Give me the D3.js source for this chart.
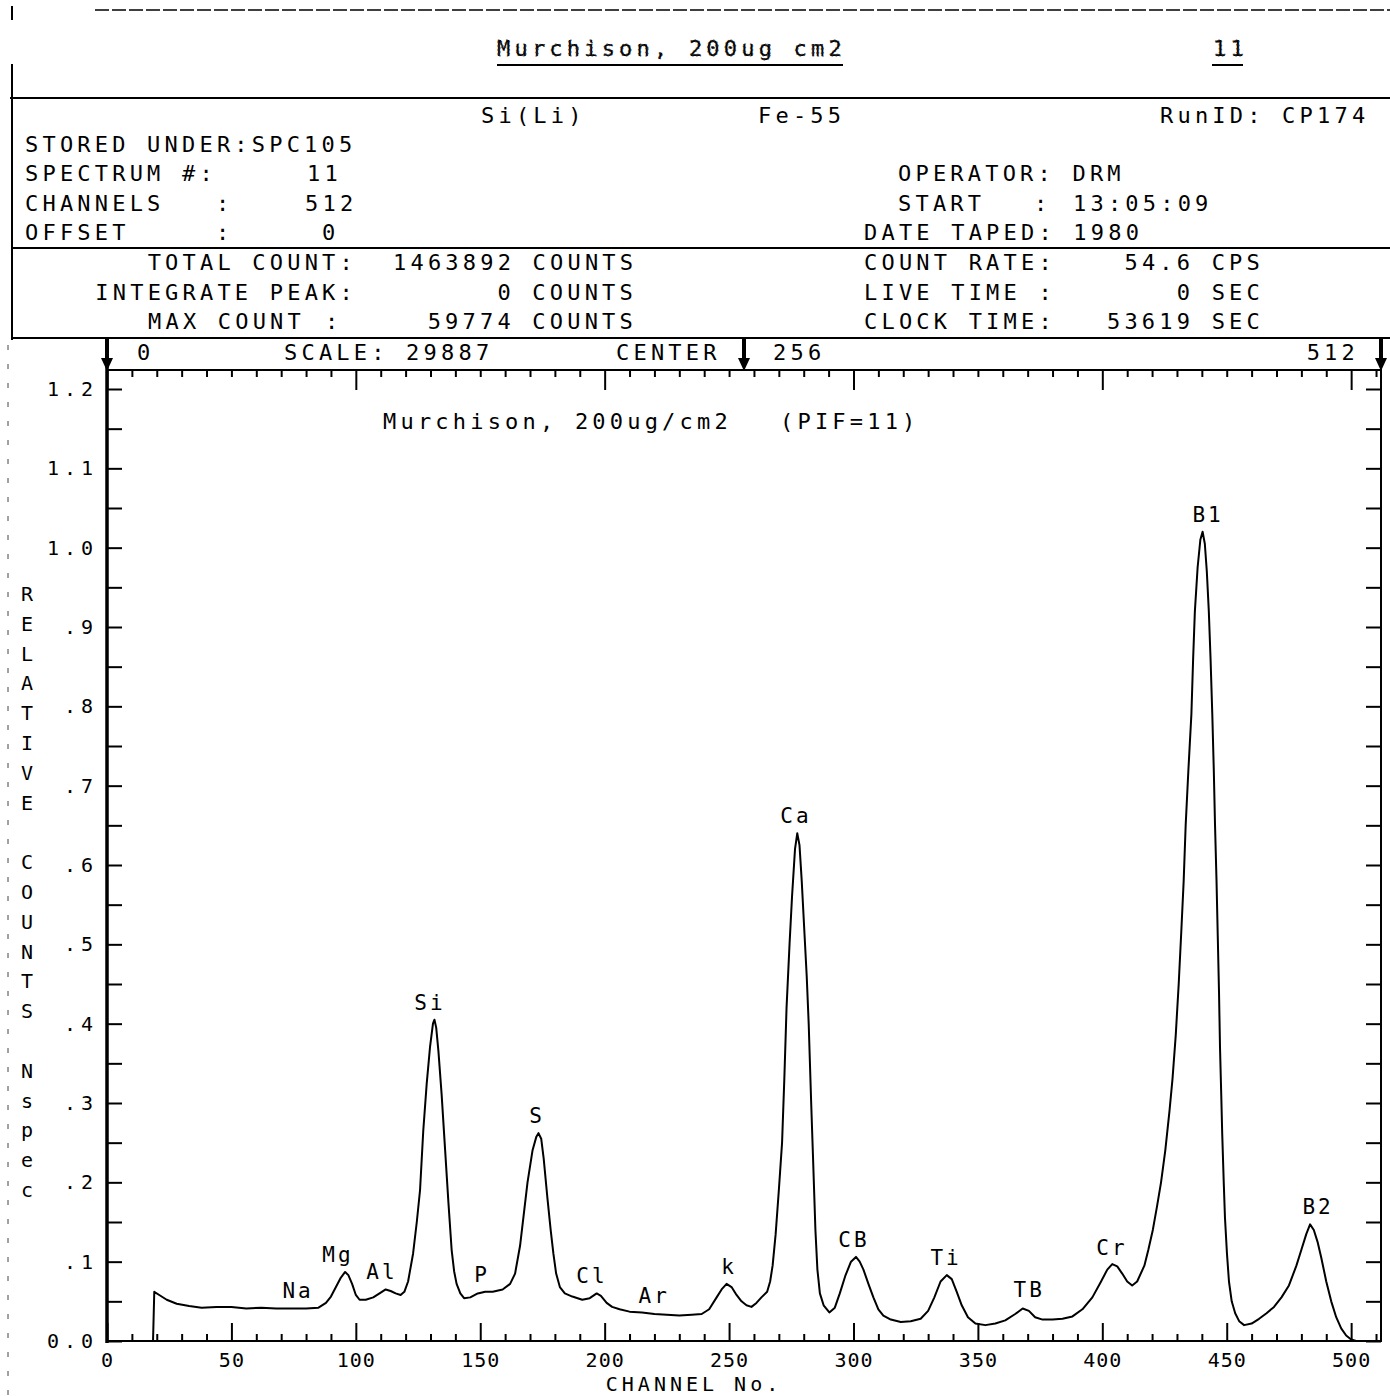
<!DOCTYPE html>
<html>
<head>
<meta charset="utf-8">
<script src="https://cdn.jsdelivr.net/npm/d3@7"></script>
<style>
  html, body { margin: 0; padding: 0; background: #fff; }
  svg { display: block; }
  text { font-family: "DejaVu Sans Mono", "Liberation Mono", monospace; fill: #000; }
</style>
</head>
<body>
<svg id="chart" width="1390" height="1396"></svg>
<script>
// ---- Spectrum: channel number and relative counts (Nspec) ----
const channels = [18.5,19,21,24,28,33,38,44,50,56,62,68,74,80,85,88,90,92,94,95.7,97,98.5,100,101.5,104,107,110,112,114,116,118,119.5,121,123,124.5,125.8,127.1,128.5,129.8,131,131.6,132.3,133.2,134.5,135.9,137.2,138.5,139.5,140.5,142,143.5,146,149,152,155,159,162,164,166,167.5,169,171,172.5,173.4,174.5,175.5,177,178.3,179.4,180.5,182,184,187,191,194,196.8,198.5,200.8,203,206,210,215,220,225,230,235,239,242,245,247,249,251,253,255,257,259,261,263,265.3,266.5,267.5,268.7,270,271.3,272.2,273.1,274.3,275.3,276.5,277.4,278.3,279.2,280.2,281.2,282,283,283.7,284.7,285.5,286.5,288,290.3,292.5,294.5,296.7,299,301,302.5,304,306,308,310,312,315,319,323,327,330,332.5,335,337.5,339.5,341.5,343.5,346,349,353,357,361,365,368,370.5,373,376,380,384,388,392,396,399.5,402,404,406,408,410,412,414,416.9,418.5,420.3,422,423.6,425.3,427,428.2,429.5,430.7,431.8,432.7,433.5,434.6,435.8,436.5,437.2,438.3,439.4,440.3,441.2,442,442.8,443.5,444.2,444.8,445.3,445.9,446.4,446.9,447.3,447.8,448.2,448.8,449.3,450.1,450.9,452,453.4,455,457,460,463,466,469,472,475,478,480,482,483.5,485,486.5,488,490,492,494,496,498,500,502,511];
const counts = [0,0.062,0.058,0.052,0.047,0.044,0.042,0.043,0.043,0.041,0.042,0.041,0.041,0.041,0.042,0.048,0.056,0.068,0.080,0.087,0.083,0.072,0.058,0.052,0.052,0.055,0.061,0.065,0.063,0.060,0.058,0.062,0.075,0.110,0.150,0.190,0.265,0.325,0.370,0.400,0.405,0.395,0.365,0.310,0.240,0.175,0.115,0.088,0.072,0.060,0.054,0.055,0.060,0.062,0.062,0.065,0.072,0.085,0.120,0.160,0.200,0.240,0.257,0.262,0.255,0.230,0.180,0.140,0.110,0.085,0.068,0.060,0.056,0.052,0.054,0.060,0.057,0.048,0.043,0.040,0.037,0.036,0.034,0.033,0.032,0.033,0.034,0.040,0.055,0.065,0.072,0.068,0.058,0.050,0.045,0.043,0.048,0.055,0.062,0.075,0.095,0.134,0.190,0.250,0.330,0.420,0.500,0.560,0.620,0.640,0.625,0.580,0.520,0.460,0.400,0.300,0.235,0.140,0.090,0.060,0.045,0.036,0.042,0.060,0.082,0.100,0.106,0.100,0.090,0.072,0.055,0.040,0.032,0.027,0.024,0.025,0.028,0.038,0.055,0.075,0.083,0.078,0.062,0.045,0.030,0.022,0.020,0.022,0.026,0.034,0.041,0.038,0.030,0.027,0.027,0.028,0.031,0.040,0.055,0.075,0.090,0.097,0.094,0.085,0.075,0.070,0.075,0.095,0.115,0.140,0.170,0.200,0.240,0.290,0.330,0.385,0.450,0.520,0.580,0.650,0.720,0.790,0.860,0.920,0.975,1.010,1.020,1.005,0.970,0.920,0.860,0.790,0.720,0.650,0.580,0.510,0.440,0.370,0.310,0.260,0.200,0.155,0.110,0.075,0.050,0.035,0.025,0.020,0.022,0.028,0.035,0.043,0.055,0.070,0.095,0.115,0.135,0.147,0.140,0.125,0.105,0.075,0.050,0.030,0.016,0.007,0.002,0,0];

// ---- Element labels above the lines ----
const peakNames    = ["Na","Mg","Al","Si","P","S","Cl","Ar","k","Ca","CB","Ti","TB","Cr","B1","B2"];
const peakChannels = [76.8,92.8,110.5,129.8,150.7,172.8,194.9,219.9,250,276.9,300.2,337.2,370.6,403.9,442.5,486.7];
const peakValues   = [0.042,0.087,0.065,0.405,0.062,0.262,0.060,0.035,0.072,0.640,0.106,0.083,0.043,0.096,1.020,0.148];

// ---- Axis ticks ----
const yTickValues = d3.range(0, 24.5).map(i => +(i * 0.05).toFixed(2));
const yTickLabels = {"0":"0.0","0.1":".1","0.2":".2","0.3":".3","0.4":".4","0.5":".5","0.6":".6","0.7":".7","0.8":".8","0.9":".9","1":"1.0","1.1":"1.1","1.2":"1.2"};
const xTickValues = d3.range(0, 511, 10);
const xTickLabels = [0,50,100,150,200,250,300,350,400,450,500];

// ---- Run header ----
const runTitle = "Murchison, 200ug cm2";
const runNumber = "11";
const plotTitle = "Murchison, 200ug/cm2";
const plotTag = "(PIF=11)";
const yTitle = "RELATIVE COUNTS Nspec";
const xTitle = "CHANNEL No.";

const svg = d3.select("#chart");
const FONT = 22;

function label(txt, x, y, opts = {}) {
  return svg.append("text")
    .attr("x", x).attr("y", y)
    .attr("font-size", opts.size || FONT)
    .attr("letter-spacing", opts.ls != null ? opts.ls : 4.2)
    .attr("text-anchor", opts.anchor || "start")
    .text(txt);
}
function hline(x1, x2, y, w = 2, dash = null) {
  const l = svg.append("line").attr("x1", x1).attr("x2", x2).attr("y1", y).attr("y2", y)
    .attr("stroke", "#000").attr("stroke-width", w);
  if (dash) l.attr("stroke-dasharray", dash);
  return l;
}
function vline(x, y1, y2, w = 2, dash = null) {
  const l = svg.append("line").attr("x1", x).attr("x2", x).attr("y1", y1).attr("y2", y2)
    .attr("stroke", "#000").attr("stroke-width", w);
  if (dash) l.attr("stroke-dasharray", dash);
  return l;
}

// ---- Header frame ----
hline(95, 1390, 10, 1.5, "14,3");
vline(12, 6, 20, 2);
vline(12, 64, 340, 2);
hline(10, 1390, 98, 2);
hline(12, 1390, 248, 2);
hline(12, 1390, 338, 2);
vline(8, 345, 1396, 1, "5,14").attr("stroke", "#444");

// faint run title with underline
label(runTitle, 497, 56).attr("fill", "none").attr("stroke", "#333")
  .attr("stroke-width", 1).attr("stroke-dasharray", "1.5,2.5");
hline(497, 843, 65, 2);
label(runNumber, 1213, 56).attr("fill", "none").attr("stroke", "#333")
  .attr("stroke-width", 1).attr("stroke-dasharray", "1.5,2.5");
hline(1212, 1243, 65, 2);

// ---- Info block ----
label("Si(Li)", 481, 123);
label("Fe-55", 758, 123);
label("RunID: CP174", 1160, 123);
label("STORED UNDER:SPC105", 25, 152);
label("SPECTRUM #:", 25, 181);  label("11", 307, 181);
label("CHANNELS", 25, 211);     label(":", 216, 211);  label("512", 305, 211);
label("OFFSET", 25, 240);       label(":", 216, 240);  label("0", 322, 240);
label("OPERATOR: DRM", 898, 181);
label("START", 898, 211);       label(":", 1034, 211); label("13:05:09", 1073, 211);
label("DATE TAPED: 1980", 864, 240);
label("TOTAL COUNT:", 357, 270, {anchor: "end"});
label("1463892 COUNTS", 393, 270);
label("INTEGRATE PEAK:", 357, 300, {anchor: "end"});
label("0 COUNTS", 637, 300, {anchor: "end"});
label("MAX COUNT", 148, 329);   label(":", 325, 329);
label("59774 COUNTS", 637, 329, {anchor: "end"});
label("COUNT RATE:", 864, 270); label("54.6 CPS", 1264, 270, {anchor: "end"});
label("LIVE TIME :", 864, 300); label("0 SEC", 1264, 300, {anchor: "end"});
label("CLOCK TIME:", 864, 329); label("53619 SEC", 1264, 329, {anchor: "end"});

// ---- Plot area ----
const L = 107, R = 1381, T = 370, B = 1341;
const x = d3.scaleLinear().domain([0, 512]).range([L, R]);
const y = d3.scaleLinear().domain([0, 1.2]).range([B, 389]);

// scale / centre marker row
label("0", 137, 360);
label("SCALE: 29887", 284, 360);
label("CENTER", 616, 360);
label("256", 773, 360);
label("512", 1359, 360, {anchor: "end"});
function marker(cx) {
  vline(cx, 339, 360, 4);
  svg.append("path")
    .attr("d", `M${cx - 6},358 L${cx + 6},358 L${cx},371 Z`)
    .attr("fill", "#000");
}
[0, 256, 512].forEach(c => marker(x(c)));

// frame
svg.append("rect").attr("x", L).attr("y", T).attr("width", R - L).attr("height", B - T)
  .attr("fill", "none").attr("stroke", "#000").attr("stroke-width", 2);
vline(L, 345, B + 2, 3.5);

// left axis: ticks point inward
const yAxisL = d3.axisLeft(y).tickValues(yTickValues).tickSize(-15).tickPadding(13)
  .tickFormat(d => yTickLabels[String(d)] || "");
const gL = svg.append("g").attr("transform", `translate(${L},0)`).call(yAxisL);
gL.select(".domain").remove();
gL.selectAll(".tick line").attr("stroke", "#000").attr("stroke-width", 2);
gL.selectAll(".tick text").attr("font-size", 20).attr("letter-spacing", 5)
  .attr("font-family", "DejaVu Sans Mono").attr("fill", "#000").attr("dx", 4);

// right axis
const yAxisR = d3.axisRight(y).tickValues(yTickValues).tickSize(-15).tickFormat("");
const gR = svg.append("g").attr("transform", `translate(${R},0)`).call(yAxisR);
gR.select(".domain").remove();
gR.selectAll(".tick line").attr("stroke", "#000").attr("stroke-width", 2);

// bottom axis
const xAxisB = d3.axisBottom(x).tickValues(xTickValues).tickSize(-7).tickPadding(14)
  .tickFormat(d => xTickLabels.includes(d) ? String(d) : "");
const gB = svg.append("g").attr("transform", `translate(0,${B})`).call(xAxisB);
gB.select(".domain").remove();
gB.selectAll(".tick line").attr("stroke", "#000").attr("stroke-width", 2)
  .attr("y2", d => d % 50 === 0 ? -18 : -7);
gB.selectAll(".tick text").attr("font-size", 20).attr("letter-spacing", 1)
  .attr("font-family", "DejaVu Sans Mono").attr("fill", "#000").attr("dy", "0.62em");

// top axis
const xAxisT = d3.axisTop(x).tickValues(xTickValues).tickSize(-7).tickFormat("");
const gT = svg.append("g").attr("transform", `translate(0,${T})`).call(xAxisT);
gT.select(".domain").remove();
gT.selectAll(".tick line").attr("stroke", "#000").attr("stroke-width", 2)
  .attr("y2", d => d % 100 === 0 ? 20 : 7);

// axis titles
label(xTitle, 694, 1391, {anchor: "middle", size: 20, ls: 4});
Array.from(yTitle).forEach((ch, i) => {
  if (ch === " ") return;
  label(ch, 27, 593 + i * 29.8 + 8, {anchor: "middle", size: 20, ls: 0});
});

// plot title
label(plotTitle, 383, 429);
label(plotTag, 780, 429);

// spectrum
const pts = channels.map((c, i) => [c, counts[i]]);
const line = d3.line().x(d => x(d[0])).y(d => y(d[1])).curve(d3.curveLinear);
svg.append("path").datum(pts).attr("d", line)
  .attr("fill", "none").attr("stroke", "#000").attr("stroke-width", 2)
  .attr("stroke-linejoin", "round");

// element labels
peakNames.forEach((n, i) => {
  label(n, x(peakChannels[i]), y(peakValues[i]) - 10, {anchor: "middle", size: 21, ls: 3});
});
</script>
</body>
</html>
